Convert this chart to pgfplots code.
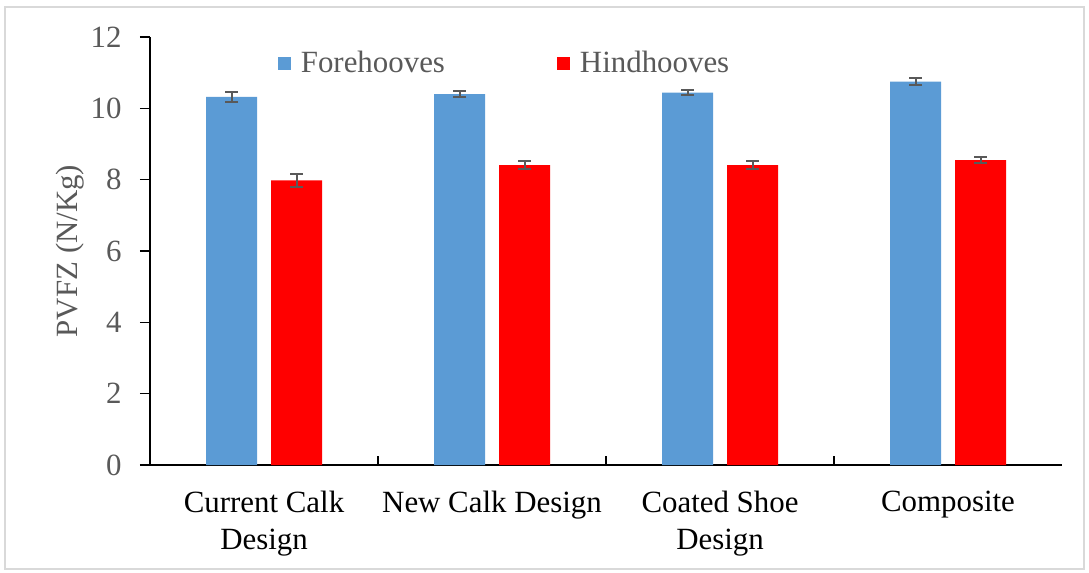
\documentclass[border=0pt]{standalone}
\usepackage{pgfplots}
\pgfplotsset{compat=1.18}
\usepackage{fontspec}
\setmainfont{Liberation Serif}
\definecolor{foreblue}{HTML}{5B9BD5}
\definecolor{hindred}{HTML}{FF0000}
\definecolor{txtgray}{HTML}{595959}
\definecolor{errgray}{HTML}{595959}
\begin{document}
\fontsize{31}{37}\selectfont
\begin{tikzpicture}
\useasboundingbox (0,0) rectangle (1089bp,-573bp);
\draw[line width=1.5bp, color=black!15] (5bp,-7bp) rectangle (1084bp,-569bp);
\begin{axis}[
  at={(150bp,-465bp)}, anchor=south west,
  scale only axis, width=912bp, height=428bp,
  ybar=14bp, bar width=51bp,
  xmin=-0.5, xmax=3.5, ymin=0, ymax=12,
  xtick={0,1,2,3},
  xticklabels={{Current Calk\\Design},{New Calk Design},{Coated Shoe\\Design},{Composite}},
  x tick label style={align=center, text=black, yshift=-6bp},
  major x tick style={draw=none},
  ytick={0,2,...,12},
  y tick label style={text=txtgray, xshift=-8bp},
  /pgf/number format/assume math mode=true,
  tick align=outside, major tick length=10bp,
  tick style={line width=1.5bp, black},
  axis x line*=bottom, axis y line*=left,
  axis line style={line width=1.5bp, black, -},
  ylabel={PVFZ (N/Kg)},
  ylabel style={at={(axis description cs:-0.088,0.5)}, anchor=center, rotate=0, text=txtgray},
  legend columns=2,
  legend style={at={(0.140,0.937)}, anchor=west, draw=none, fill=none, inner sep=0pt,
    nodes={text=txtgray, inner sep=3bp},
    /tikz/every even column/.append style={column sep=109bp}},
  legend image code/.code={\fill[#1,draw=none] (0bp,-6.5bp) rectangle (13bp,6.5bp); \path (20bp,0bp);},
  error bars/y dir=both, error bars/y explicit,
  error bars/error bar style={draw=errgray, line width=2bp, solid},
  error bars/error mark options={draw=errgray, line width=2bp, mark size=6.5bp, rotate=90},
]
\addplot[fill=foreblue, draw=none] coordinates {
  (0,10.32) +- (0,0.14)
  (1,10.40) +- (0,0.08)
  (2,10.44) +- (0,0.07)
  (3,10.75) +- (0,0.09)
};
\addplot[fill=hindred, draw=none] coordinates {
  (0,7.98) +- (0,0.19)
  (1,8.41) +- (0,0.12)
  (2,8.41) +- (0,0.12)
  (3,8.55) +- (0,0.09)
};
\legend{Forehooves,Hindhooves}
\draw[line width=1.5bp, black] (axis cs:0.5,0) -- ([yshift=9bp]axis cs:0.5,0);
\draw[line width=1.5bp, black] (axis cs:1.5,0) -- ([yshift=9bp]axis cs:1.5,0);
\draw[line width=1.5bp, black] (axis cs:2.5,0) -- ([yshift=9bp]axis cs:2.5,0);
\end{axis}
\end{tikzpicture}
\end{document}
